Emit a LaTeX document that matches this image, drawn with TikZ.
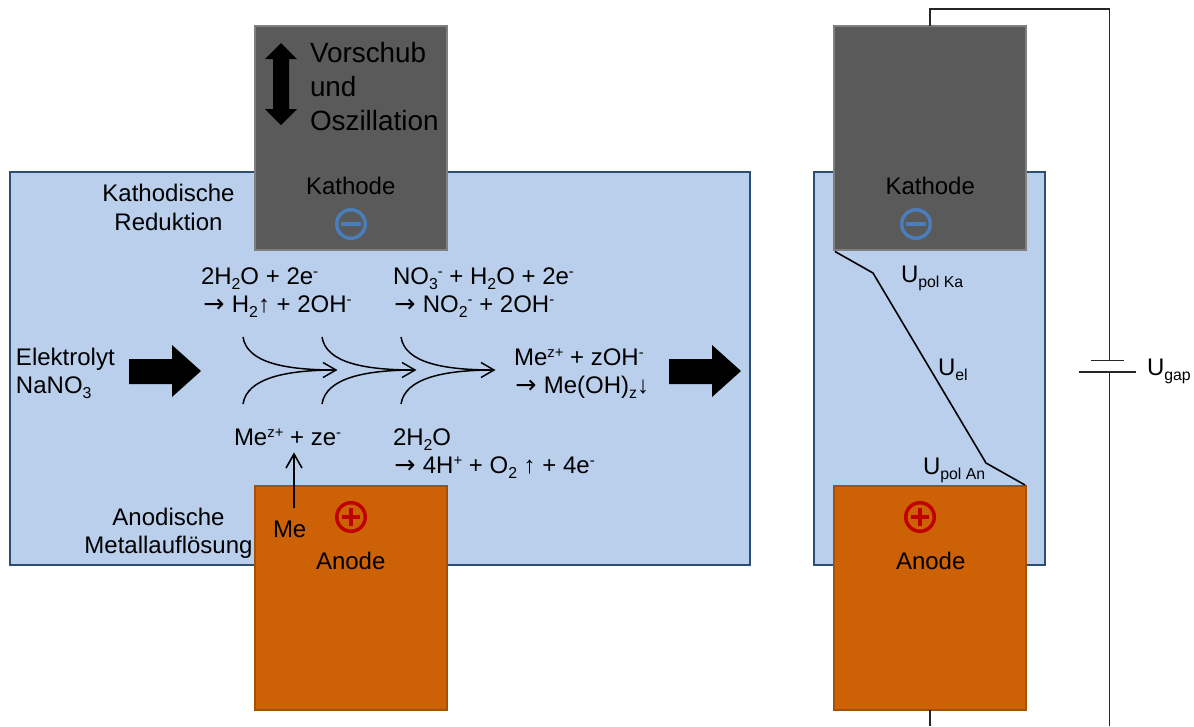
\documentclass[tikz,border=0pt]{standalone}
\usepackage{fontspec}
\setmainfont{Liberation Sans}
\newfontfamily\arfont{DejaVu Sans}
\newcommand\lo[1]{\raisebox{-.24em}{\scalebox{.66}{#1}}}
\newcommand\hi[1]{\raisebox{.32em}{\scalebox{.62}{#1}}}
\newcommand\ar{\makebox[22.4pt][l]{\kern1pt{\arfont\fontsize{19}{19}\selectfont →}}}
\definecolor{elec}{HTML}{B9CFEC}
\definecolor{elecb}{HTML}{2C4D75}
\definecolor{kath}{HTML}{5A5A5A}
\definecolor{kathb}{HTML}{7F7F7F}
\definecolor{anod}{HTML}{CC6106}
\definecolor{anodb}{HTML}{A65005}
\definecolor{minusc}{HTML}{4A7EBB}
\definecolor{plusc}{HTML}{C00000}
\definecolor{wirec}{HTML}{262626}
\tikzset{
  x=0.75pt,y=-0.75pt,
  lab/.style={inner sep=0pt,outer sep=0pt,anchor=base west,yshift=-0.75pt,font=\fontsize{18}{18}\selectfont},
  labc/.style={lab,anchor=base},
  big/.style={lab,font=\fontsize{20.9}{20.9}\selectfont},
  bath/.style={draw=elecb,fill=elec,line width=1.1pt,inner sep=0pt,outer sep=0pt,minimum height=294.75pt},
  electrode/.style={inner sep=0pt,outer sep=0pt,minimum width=144pt,minimum height=168pt,line width=1.5pt},
  kathode/.style={electrode,draw=kathb,fill=kath},
  anode/.style={electrode,draw=anodb,fill=anod},
  sign/.style={circle,draw,line width=2.6pt,inner sep=0pt,minimum size=21.4pt},
  wire/.style={draw=wirec,line width=0.8pt},
  flow/.style={draw=black,line width=1.1pt},
  potline/.style={draw=black,line width=1.2pt,line join=miter},
  block/.style={fill=black,draw=none}
}
\begin{document}
\begin{tikzpicture}
\useasboundingbox (0,0) rectangle (1194,726);
% baths
\node[bath,minimum width=555pt] (bathL) at (380,368.5) {};
\node[bath,minimum width=173.25pt] (bathR) at (929.5,368.5) {};
% electrodes
\node[kathode] (kaL) at (350.5,138) {};
\node[anode] (anL) at (350.5,597.5) {};
\node[kathode] (kaR) at (930,138) {};
\node[anode] (anR) at (930,597.5) {};
% circuit
\coordinate (topR) at (1109.5,9);
\coordinate (plateUp) at (1109.5,360.5);
\coordinate (plateDn) at (1109.5,372);
\coordinate (pu1) at (1091,360.5);
\coordinate (pu2) at (1124,360.5);
\coordinate (pd1) at (1079,372);
\coordinate (pd2) at (1136,372);
\coordinate (botR) at (1109.5,726);
\coordinate (botA) at (930,726);
\draw[wire] (kaR.north) -- (kaR.north |- topR) -- (topR) -- (plateUp);
\draw[wire] (pu1) -- (pu2);
\draw[wire] (pd1) -- (pd2);
\draw[wire] (plateDn) -- (botR);
\draw[wire] (anR.south) -- (botA);
% potential curve
\coordinate (p0) at (835,251.5);
\coordinate (p1) at (873,273);
\coordinate (p2) at (986,463);
\coordinate (p3) at (1025,485);
\draw[potline] (p0) -- (p1) -- (p2) -- (p3);
% block arrows
\fill[block] (129,359) -- (172,359) -- (172,345) -- (201,371) -- (172,397) -- (172,384) -- (129,384) -- cycle;
\fill[block] (669,359) -- (712,359) -- (712,345) -- (741,371) -- (712,397) -- (712,384) -- (669,384) -- cycle;
\fill[block] (281,43) -- (297,59) -- (289,59) -- (289,109) -- (297,109) -- (281,125) -- (265,109) -- (273,109) -- (273,59) -- (265,59) -- cycle;
% reaction flow
\coordinate (t1) at (243,337); \coordinate (b1) at (243,404); \coordinate (e1) at (336,370);
\coordinate (t2) at (322,337); \coordinate (b2) at (322,404); \coordinate (e2) at (415,370);
\coordinate (t3) at (401,337); \coordinate (b3) at (401,404); \coordinate (e3) at (494,370);
\foreach \a/\b/\c in {t1/b1/e1,t2/b2/e2,t3/b3/e3}{
  \draw[flow] (\a) .. controls +(4,26) and +(-50,0) .. (\c);
  \draw[flow] (\b) .. controls +(4,-26) and +(-50,0) .. (\c);
  \draw[flow] ([shift={(-13,-7.5)}]\c) -- (\c) -- ([shift={(-13,7.5)}]\c);
}
% signs
\node[sign,draw=minusc] (mL) at (351,224) {};
\draw[minusc,line width=2.4pt] ([xshift=-7.5pt]mL.center) -- ([xshift=7.5pt]mL.center);
\node[sign,draw=minusc] (mR) at (916,224) {};
\draw[minusc,line width=2.4pt] ([xshift=-7.5pt]mR.center) -- ([xshift=7.5pt]mR.center);
\node[sign,draw=plusc] (pL) at (351,517) {};
\draw[plusc,line width=2.4pt] ([xshift=-7pt]pL.center) -- ([xshift=7pt]pL.center) ([yshift=-7pt]pL.center) -- ([yshift=7pt]pL.center);
\node[sign,draw=plusc] (pR) at (920,517) {};
\draw[plusc,line width=2.4pt] ([xshift=-7pt]pR.center) -- ([xshift=7pt]pR.center) ([yshift=-7pt]pR.center) -- ([yshift=7pt]pR.center);
% texts
\node[big] (v1) at (310,61) {Vorschub};
\node[big] (v2) at (310,95) {und};
\node[big] (v3) at (310,129) {Oszillation};
\node[lab] (kL) at (306,193) {Kathode};
\node[lab] (kR) at (885.5,193) {Kathode};
\node[lab] (aL) at (316,568) {Anode};
\node[lab] (aR) at (896,568) {Anode};
\node[labc] (kr1) at (168.5,200) {Kathodische};
\node[labc] (kr2) at (168.5,229) {Reduktion};
\node[labc] (am1) at (168.5,524) {Anodische};
\node[labc] (am2) at (168.5,552) {Metallauflösung};
\node[lab] (el1) at (16,364) {Elektrolyt};
\node[lab] (el2) at (16,392) {NaNO\lo{3}};
\node[lab] (r1a) at (201,283) {2H\lo{2}O + 2e\hi{-}};
\node[lab] (r1b) at (202,311) {\ar H\lo{2}↑ + 2OH\hi{-}};
\node[lab] (r2a) at (393,283) {NO\lo{3}\hi{-} + H\lo{2}O + 2e\hi{-}};
\node[lab] (r2b) at (393,311) {\ar NO\lo{2}\hi{-} + 2OH\hi{-}};
\node[lab] (r3a) at (514,364) {Me\hi{z+} + zOH\hi{-}};
\node[lab] (r3b) at (514,392) {\ar Me(OH)\lo{z}↓};
\node[lab] (r4) at (234,444) {Me\hi{z+} + ze\hi{-}};
\node[lab] (r5a) at (393,444) {2H\lo{2}O};
\node[lab] (r5b) at (393,472) {\ar 4H\hi{+} + O\lo{2} ↑ + 4e\hi{-}};
\node[lab] (me) at (273,536) {Me};
\node[lab] (uka) at (901,281) {U\lo{pol Ka}};
\node[lab] (uel) at (938,374) {U\lo{el}};
\node[lab] (uan) at (923,473) {U\lo{pol An}};
\node[lab] (ugap) at (1147,374) {U\lo{gap}};
% metal arrow
\coordinate (meTop) at (294,508);
\coordinate (r4Bot) at (294,454);
\draw[draw=black,line width=1.4pt] (meTop) -- (r4Bot);
\draw[draw=black,line width=1.2pt] (286,468) -- (r4Bot) -- (302,468);
\end{tikzpicture}
\end{document}
